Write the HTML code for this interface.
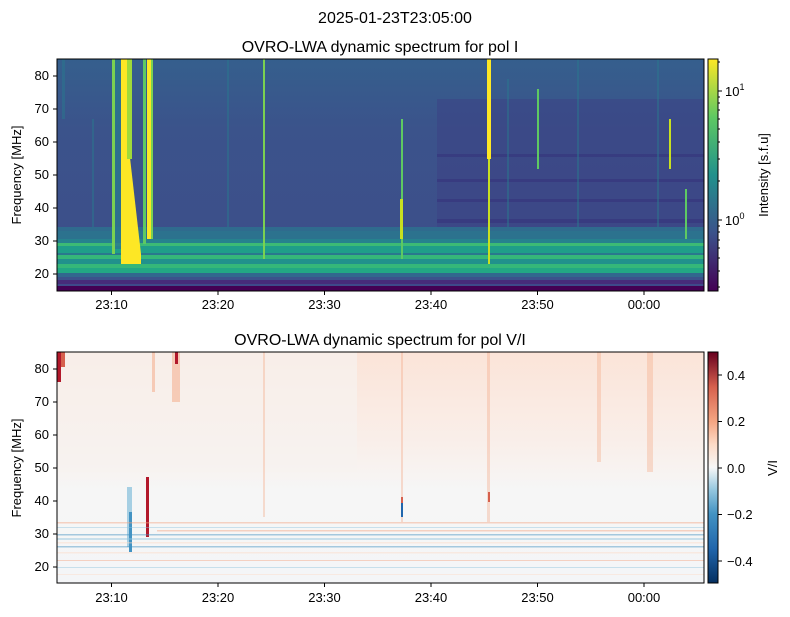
<!DOCTYPE html>
<html><head><meta charset="utf-8"><style>
body{margin:0;background:#fff;}
svg{display:block;font-family:"Liberation Sans","DejaVu Sans",sans-serif;}
</style></head><body>
<svg width="790" height="617" viewBox="0 0 790 617" xmlns="http://www.w3.org/2000/svg">
<defs>
<linearGradient id="vir" x1="0" y1="1" x2="0" y2="0">
<stop offset="0" stop-color="#440154"/><stop offset="0.25" stop-color="#3b528b"/><stop offset="0.5" stop-color="#21918c"/><stop offset="0.75" stop-color="#5ec962"/><stop offset="1" stop-color="#fde725"/></linearGradient>
<linearGradient id="rdbu" x1="0" y1="1" x2="0" y2="0">
<stop offset="0" stop-color="#053061"/><stop offset="0.15" stop-color="#2166ac"/><stop offset="0.3" stop-color="#4393c3"/><stop offset="0.4" stop-color="#92c5de"/><stop offset="0.5" stop-color="#f7f7f7"/><stop offset="0.6" stop-color="#fddbc7"/><stop offset="0.7" stop-color="#f4a582"/><stop offset="0.85" stop-color="#d6604d"/><stop offset="1" stop-color="#67001f"/></linearGradient>
<linearGradient id="topbg" x1="0" y1="0" x2="0" y2="1">
<stop offset="0" stop-color="#355f8d"/><stop offset="0.3" stop-color="#3b538b"/><stop offset="1" stop-color="#3d4d8a"/></linearGradient>
<linearGradient id="botbg" x1="0" y1="0" x2="0" y2="1">
<stop offset="0" stop-color="#fbe4d8"/><stop offset="0.4" stop-color="#f9efea"/><stop offset="0.6" stop-color="#f6f6f6"/><stop offset="1" stop-color="#f4f5f7"/></linearGradient>
</defs>
<text x="395" y="23" font-size="16" text-anchor="middle">2025-01-23T23:05:00</text>
<text x="380" y="52" font-size="16" text-anchor="middle">OVRO-LWA dynamic spectrum for pol I</text>
<text x="380" y="345" font-size="16" text-anchor="middle">OVRO-LWA dynamic spectrum for pol V/I</text>

<!-- TOP PLOT -->
<svg x="57" y="59" width="647" height="232" viewBox="0 0 647 232">
<rect width="647" height="232" fill="url(#topbg)"/>
<rect x="380" y="40" width="267" height="130" fill="#3b3f82" opacity="0.45"/>
<g fill="#35307a" opacity="0.5">
<rect x="380" y="95" width="267" height="3"/><rect x="380" y="120" width="267" height="3"/><rect x="380" y="140" width="267" height="3"/><rect x="380" y="160" width="267" height="4"/>
</g>
<g fill="#2a788e" opacity="0.5">
<rect x="5" y="0" width="3" height="60"/><rect x="35" y="60" width="2" height="120"/><rect x="70" y="40" width="2" height="130"/>
<rect x="170" y="0" width="2" height="170"/><rect x="450" y="20" width="2" height="150"/><rect x="520" y="0" width="2" height="170"/><rect x="600" y="0" width="2" height="170"/>
</g>
<!-- lower bands -->
<rect x="0" y="168" width="647" height="4" fill="#2f6b8e"/>
<rect x="0" y="172" width="647" height="8" fill="#2c728e"/>
<rect x="0" y="180" width="647" height="4" fill="#26828e"/>
<rect x="0" y="184" width="647" height="3" fill="#3cbb75"/>
<rect x="0" y="187" width="647" height="7" fill="#1f9e89"/>
<rect x="0" y="194" width="647" height="2" fill="#2a788e"/>
<rect x="0" y="196" width="647" height="4" fill="#35b779"/>
<rect x="0" y="200" width="647" height="5" fill="#21918c"/>
<rect x="0" y="205" width="647" height="4" fill="#35b779"/>
<rect x="0" y="209" width="647" height="5" fill="#22a884"/>
<rect x="0" y="214" width="647" height="4" fill="#31688e"/>
<rect x="0" y="218" width="647" height="3" fill="#3b528b"/>
<rect x="0" y="221" width="647" height="4" fill="#472c7a"/>
<rect x="0" y="225" width="647" height="2" fill="#3e4a89"/>
<rect x="0" y="227" width="647" height="5" fill="#440154"/>
<!-- bursts -->
<rect x="55" y="0" width="3" height="195" fill="#7ad151"/>
<rect x="58" y="0" width="6" height="190" fill="#2a788e" opacity="0.8"/>
<rect x="64" y="0" width="6" height="205" fill="#fde725"/>
<polygon points="64,90 72,90 84,195 84,205 64,205" fill="#fde725"/>
<rect x="70" y="0" width="5" height="100" fill="#a0da39"/>
<rect x="86" y="0" width="3" height="185" fill="#5ec962"/>
<rect x="90" y="0" width="4" height="180" fill="#fde725"/>
<rect x="94" y="0" width="2" height="180" fill="#7ad151"/>
<rect x="206" y="0" width="2" height="200" fill="#7ad151"/>
<rect x="344" y="60" width="2" height="140" fill="#5ec962"/>
<rect x="343" y="140" width="3" height="40" fill="#c8e020"/>
<rect x="430" y="0" width="4" height="100" fill="#fde725"/>
<rect x="431" y="100" width="2" height="105" fill="#c8e020"/>
<rect x="480" y="30" width="2" height="80" fill="#5ec962"/>
<rect x="612" y="60" width="2" height="50" fill="#c8e020"/>
<rect x="628" y="130" width="2" height="50" fill="#5ec962"/>
</svg>
<rect x="57" y="59" width="647" height="232" fill="none" stroke="#000" stroke-width="1"/>
<g font-size="13" text-anchor="end">
<text x="49" y="80">80</text><text x="49" y="113">70</text><text x="49" y="146">60</text><text x="49" y="179">50</text><text x="49" y="212">40</text><text x="49" y="245">30</text><text x="49" y="278">20</text>
</g>
<g stroke="#000"><line x1="53" x2="57" y1="76" y2="76"/><line x1="53" x2="57" y1="109" y2="109"/><line x1="53" x2="57" y1="142" y2="142"/><line x1="53" x2="57" y1="175" y2="175"/><line x1="53" x2="57" y1="208" y2="208"/><line x1="53" x2="57" y1="241" y2="241"/><line x1="53" x2="57" y1="274" y2="274"/>
<line y1="291" y2="295" x1="111.5" x2="111.5"/><line y1="291" y2="295" x1="218" x2="218"/><line y1="291" y2="295" x1="324.5" x2="324.5"/><line y1="291" y2="295" x1="431" x2="431"/><line y1="291" y2="295" x1="537.5" x2="537.5"/><line y1="291" y2="295" x1="644" x2="644"/></g>
<g font-size="13" text-anchor="middle"><text x="111.5" y="309">23:10</text><text x="218" y="309">23:20</text><text x="324.5" y="309">23:30</text><text x="431" y="309">23:40</text><text x="537.5" y="309">23:50</text><text x="644" y="309">00:00</text></g>
<text transform="translate(21,175) rotate(-90)" font-size="13" text-anchor="middle">Frequency [MHz]</text>
<rect x="708" y="59" width="10" height="232" fill="url(#vir)" stroke="#000" stroke-width="1"/>
<g stroke="#000"><line x1="718" x2="722" y1="91" y2="91"/><line x1="718" x2="722" y1="220" y2="220"/>
<line x1="718" x2="720" y1="287" y2="287"/><line x1="718" x2="720" y1="271" y2="271"/><line x1="718" x2="720" y1="258" y2="258"/><line x1="718" x2="720" y1="248" y2="248"/><line x1="718" x2="720" y1="240" y2="240"/><line x1="718" x2="720" y1="232" y2="232"/><line x1="718" x2="720" y1="226" y2="226"/>
<line x1="718" x2="720" y1="181" y2="181"/><line x1="718" x2="720" y1="159" y2="159"/><line x1="718" x2="720" y1="142" y2="142"/><line x1="718" x2="720" y1="129" y2="129"/><line x1="718" x2="720" y1="119" y2="119"/><line x1="718" x2="720" y1="110" y2="110"/><line x1="718" x2="720" y1="103" y2="103"/><line x1="718" x2="720" y1="97" y2="97"/>
<line x1="718" x2="720" y1="62" y2="62"/></g>
<text x="725" y="96" font-size="13">10<tspan font-size="9" dy="-6">1</tspan></text>
<text x="725" y="225" font-size="13">10<tspan font-size="9" dy="-6">0</tspan></text>
<text transform="translate(768,175) rotate(-90)" font-size="13" text-anchor="middle">Intensity [s.f.u]</text>

<!-- BOTTOM PLOT -->
<svg x="57" y="352" width="647" height="231" viewBox="0 0 647 231">
<rect width="647" height="231" fill="url(#botbg)"/>
<rect x="0" y="0" width="300" height="120" fill="#f7f2ef" opacity="0.7"/>
<rect x="0" y="0" width="4" height="30" fill="#b2182b"/>
<rect x="4" y="0" width="4" height="15" fill="#d6604d"/>
<rect x="95" y="0" width="3" height="40" fill="#f4a582" opacity="0.5"/>
<rect x="115" y="0" width="8" height="50" fill="#f4a582" opacity="0.5"/>
<rect x="118" y="0" width="3" height="12" fill="#b2182b"/>
<g fill="#f4a582" opacity="0.35"><rect x="206" y="0" width="2" height="165"/><rect x="344" y="0" width="2" height="170"/><rect x="430" y="0" width="3" height="170"/><rect x="590" y="0" width="6" height="120"/><rect x="540" y="0" width="4" height="110"/></g>
<rect x="89" y="125" width="3" height="60" fill="#b2182b"/>
<rect x="70" y="135" width="5" height="60" fill="#92c5de" opacity="0.8"/>
<rect x="72" y="160" width="3" height="40" fill="#4393c3"/>
<rect x="344" y="150" width="2" height="15" fill="#2166ac"/>
<rect x="344" y="145" width="2" height="6" fill="#d6604d"/>
<rect x="431" y="140" width="2" height="10" fill="#d6604d"/>
<g opacity="0.45">
<rect x="0" y="170" width="647" height="1.5" fill="#f4a582"/>
<rect x="0" y="175" width="647" height="1" fill="#92c5de"/>
<rect x="100" y="178" width="547" height="1.5" fill="#f4a582"/>
<rect x="0" y="182" width="647" height="1.5" fill="#4393c3"/>
<rect x="0" y="186" width="647" height="2" fill="#92c5de"/>
<rect x="0" y="190" width="647" height="1.5" fill="#fddbc7"/>
<rect x="0" y="194" width="647" height="1.5" fill="#4393c3"/>
<rect x="0" y="200" width="647" height="1.5" fill="#fddbc7"/>
<rect x="0" y="208" width="647" height="1" fill="#f4a582"/>
<rect x="0" y="215" width="647" height="1" fill="#92c5de"/>
<rect x="0" y="222" width="647" height="1" fill="#fddbc7"/>
</g>
</svg>
<rect x="57" y="352" width="647" height="231" fill="none" stroke="#000" stroke-width="1"/>
<g font-size="13" text-anchor="end">
<text x="49" y="373">80</text><text x="49" y="406">70</text><text x="49" y="439">60</text><text x="49" y="472">50</text><text x="49" y="505">40</text><text x="49" y="538">30</text><text x="49" y="571">20</text>
</g>
<g stroke="#000"><line x1="53" x2="57" y1="369" y2="369"/><line x1="53" x2="57" y1="402" y2="402"/><line x1="53" x2="57" y1="435" y2="435"/><line x1="53" x2="57" y1="468" y2="468"/><line x1="53" x2="57" y1="501" y2="501"/><line x1="53" x2="57" y1="534" y2="534"/><line x1="53" x2="57" y1="567" y2="567"/>
<line y1="583" y2="587" x1="111.5" x2="111.5"/><line y1="583" y2="587" x1="218" x2="218"/><line y1="583" y2="587" x1="324.5" x2="324.5"/><line y1="583" y2="587" x1="431" x2="431"/><line y1="583" y2="587" x1="537.5" x2="537.5"/><line y1="583" y2="587" x1="644" x2="644"/></g>
<g font-size="13" text-anchor="middle"><text x="111.5" y="602">23:10</text><text x="218" y="602">23:20</text><text x="324.5" y="602">23:30</text><text x="431" y="602">23:40</text><text x="537.5" y="602">23:50</text><text x="644" y="602">00:00</text></g>
<text transform="translate(21,468) rotate(-90)" font-size="13" text-anchor="middle">Frequency [MHz]</text>
<rect x="708" y="352" width="10" height="231" fill="url(#rdbu)" stroke="#000" stroke-width="1"/>
<g stroke="#000"><line x1="718" x2="722" y1="375" y2="375"/><line x1="718" x2="722" y1="421.5" y2="421.5"/><line x1="718" x2="722" y1="468" y2="468"/><line x1="718" x2="722" y1="514.5" y2="514.5"/><line x1="718" x2="722" y1="561" y2="561"/></g>
<g font-size="13"><text x="727" y="380">0.4</text><text x="727" y="426">0.2</text><text x="727" y="473">0.0</text><text x="727" y="519">−0.2</text><text x="727" y="566">−0.4</text></g>
<text transform="translate(777,468) rotate(-90)" font-size="13" text-anchor="middle">V/I</text>
</svg>
</body></html>
